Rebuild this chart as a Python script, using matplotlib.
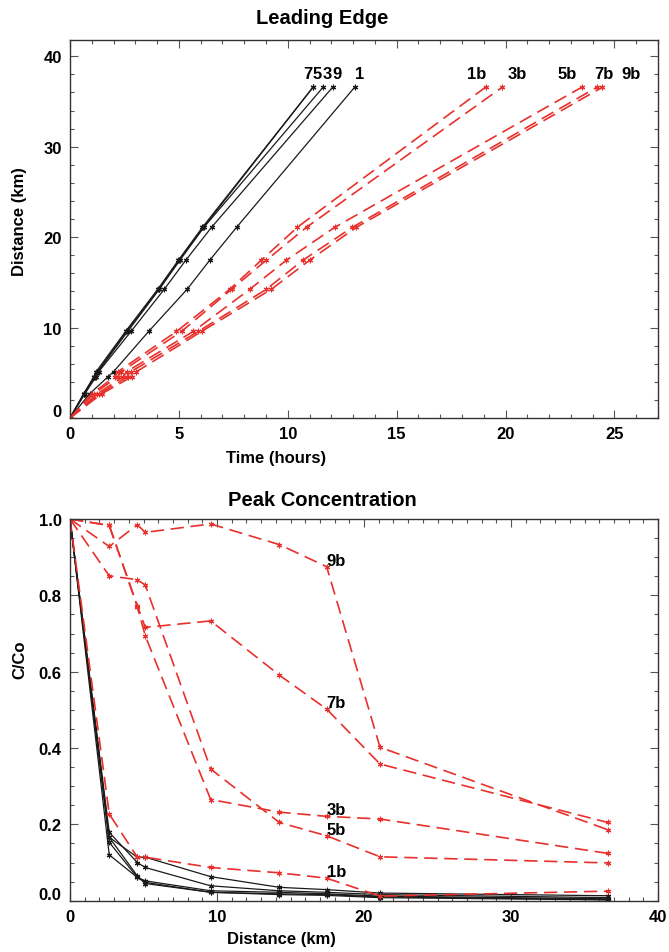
import matplotlib
matplotlib.use('Agg')
import matplotlib.pyplot as plt
from matplotlib.ticker import MultipleLocator, FuncFormatter
from matplotlib.transforms import blended_transform_factory, offset_copy

plt.rcParams['font.family'] = ['Liberation Sans', 'DejaVu Sans']
plt.rcParams['font.weight'] = 'bold'

# ---------------- data ----------------
distance_km = [0, 2.67, 4.58, 5.12, 9.57, 14.24, 17.46, 21.09, 36.58]

black_names = ['7', '5', '3', '9', '1']
black_times = [
    [0, 0.62, 1.10, 1.20, 2.55, 4.03, 4.98, 6.08, 11.16],
    [0, 0.64, 1.12, 1.25, 2.60, 4.08, 5.02, 6.13, 11.16],
    [0, 0.66, 1.15, 1.28, 2.65, 4.10, 5.05, 6.15, 11.62],
    [0, 0.68, 1.20, 1.32, 2.80, 4.33, 5.32, 6.50, 12.06],
    [0, 0.90, 1.75, 2.00, 3.61, 5.38, 6.42, 7.65, 13.07],
]
black_label_x = [10.69, 11.15, 11.61, 12.06, 13.07]

red_names = ['1b', '3b', '5b', '7b', '9b']
red_times = [
    [0, 1.00, 2.06, 2.20, 4.89, 7.34, 8.79, 10.44, 19.08],
    [0, 1.10, 2.20, 2.35, 5.12, 7.42, 9.02, 10.86, 19.85],
    [0, 1.25, 2.45, 2.60, 5.66, 8.26, 9.94, 12.16, 23.50],
    [0, 1.35, 2.65, 2.80, 5.89, 9.02, 10.70, 12.97, 24.20],
    [0, 1.45, 2.85, 3.05, 6.04, 9.25, 11.01, 13.15, 24.45],
]
red_label_x = [18.21, 20.09, 22.39, 24.08, 25.32]
top_label_y = 37.6

black_conc = [
    [1, 0.166, 0.114, 0.114, 0.063, 0.035, 0.029, 0.020, 0.013],
    [1, 0.179, 0.100, 0.087, 0.039, 0.026, 0.022, 0.016, 0.008],
    [1, 0.153, 0.061, 0.052, 0.026, 0.022, 0.018, 0.012, 0.005],
    [1, 0.120, 0.061, 0.048, 0.022, 0.018, 0.016, 0.010, 0.003],
    [1, 0.166, 0.065, 0.045, 0.022, 0.016, 0.014, 0.008, 0.002],
]
red_conc = [
    [1, 0.227, 0.114, 0.114, 0.087, 0.073, 0.059, 0.012, 0.025],   # 1b
    [1, 0.983, 0.770, 0.694, 0.265, 0.232, 0.221, 0.214, 0.124],   # 3b
    [1, 0.851, 0.841, 0.827, 0.345, 0.205, 0.170, 0.115, 0.099],   # 5b
    [1, 0.983, 0.773, 0.716, 0.733, 0.591, 0.502, 0.358, 0.205],   # 7b
    [1, 0.928, 0.985, 0.965, 0.987, 0.933, 0.875, 0.402, 0.186],   # 9b
]
conc_label_index = 6  # labels placed at the 17.46 km station

# ---------------- style ----------------
BLACK = '#1a1a1a'
RED = '#e8302c'
STAR = (6, 2, 0)

fig = plt.figure(figsize=(6.69, 9.53), dpi=100)
W, H = 669, 953

def axes_px(l, t, r, b):
    return fig.add_axes([l / W, 1 - b / H, (r - l) / W, (b - t) / H])

def style(ax, zero_text):
    ax.tick_params(which='both', direction='in', top=True, right=True,
                   labelsize=12, width=0.8, color='#555555')
    ax.tick_params(axis='x', pad=6)
    ax.tick_params(axis='y', pad=6)
    ax.tick_params(which='major', length=6)
    ax.tick_params(which='minor', length=3)
    for s in ax.spines.values():
        s.set_linewidth(1.0)
        s.set_color('#333333')
    for lab in ax.get_xticklabels() + ax.get_yticklabels():
        lab.set_fontweight('bold')
    # lowest y label sits above its tick (as in the original)
    tr = offset_copy(blended_transform_factory(ax.transAxes, ax.transData),
                     fig=fig, x=-6, y=-1, units='points')
    ax.text(0, ax.get_ylim()[0], zero_text, transform=tr, ha='right',
            va='bottom', fontsize=12, fontweight='bold')

# ---------- top panel ----------
ax1 = axes_px(70, 41, 658, 419)
for times in black_times:
    ax1.plot(times, distance_km, color=BLACK, lw=0.9, marker=STAR, ms=4, mew=0.8)
for times in red_times:
    ax1.plot(times, distance_km, color=RED, lw=1.2, dashes=(8, 4), marker=STAR,
             ms=4, mew=0.8)
for name, x in zip(black_names, black_label_x):
    ax1.text(x, top_label_y, name, fontsize=12, fontweight='bold', ha='left',
             va='baseline')
for name, x in zip(red_names, red_label_x):
    ax1.text(x, top_label_y, name, fontsize=12, fontweight='bold', ha='left',
             va='baseline')
ax1.set_xlim(0, 27)
ax1.set_ylim(0, 41.8)
ax1.xaxis.set_major_locator(MultipleLocator(5))
ax1.xaxis.set_minor_locator(MultipleLocator(1))
ax1.yaxis.set_major_locator(MultipleLocator(10))
ax1.yaxis.set_minor_locator(MultipleLocator(2))
ax1.yaxis.set_major_formatter(FuncFormatter(lambda v, p: '' if abs(v) < 1e-9 else '%d' % v))
style(ax1, '0')

fig.text(322 / W, 1 - 18 / H, 'Leading Edge', fontsize=14.5, fontweight='bold',
         ha='center', va='center')
fig.text(276 / W, 1 - 459 / H, 'Time (hours)', fontsize=12, fontweight='bold',
         ha='center', va='center')
fig.text(20 / W, 1 - 222 / H, 'Distance (km)', fontsize=12, fontweight='bold',
         ha='center', va='center', rotation=90)

# ---------- bottom panel ----------
ax2 = axes_px(70, 520, 658, 901.7)
for conc in black_conc:
    ax2.plot(distance_km, conc, color=BLACK, lw=0.9, marker=STAR, ms=4, mew=0.8)
for name, conc in zip(red_names, red_conc):
    ax2.plot(distance_km, conc, color=RED, lw=1.2, dashes=(8, 4), marker=STAR,
             ms=4, mew=0.8)
    ax2.text(distance_km[conc_label_index], conc[conc_label_index] + 0.005, name,
             fontsize=12, fontweight='bold', ha='left', va='baseline')
ax2.set_xlim(0, 40)
ax2.set_ylim(0, 1.0)
ax2.xaxis.set_major_locator(MultipleLocator(10))
ax2.xaxis.set_minor_locator(MultipleLocator(1))
ax2.yaxis.set_major_locator(MultipleLocator(0.2))
ax2.yaxis.set_minor_locator(MultipleLocator(0.05))
ax2.yaxis.set_major_formatter(FuncFormatter(lambda v, p: '' if abs(v) < 1e-9 else '%.1f' % v))
style(ax2, '0.0')

fig.text(322 / W, 1 - 500 / H, 'Peak Concentration', fontsize=14.5,
         fontweight='bold', ha='center', va='center')
fig.text(281 / W, 1 - 940 / H, 'Distance (km)', fontsize=12, fontweight='bold',
         ha='center', va='center')
fig.text(20 / W, 1 - 660 / H, 'C/Co', fontsize=12, fontweight='bold',
         ha='center', va='center', rotation=90)

fig.savefig('out.png', dpi=100, facecolor='white')
